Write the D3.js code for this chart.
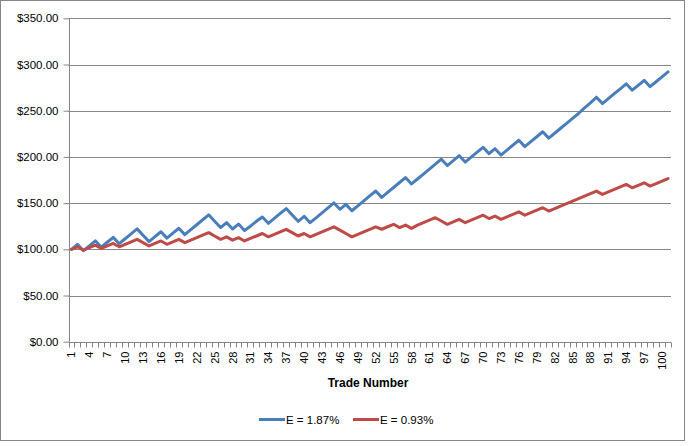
<!DOCTYPE html>
<html>
<head>
<meta charset="utf-8">
<script src="https://cdn.jsdelivr.net/npm/d3@7"></script>
<style>
  html, body { margin: 0; padding: 0; background: #ffffff; }
  svg { display: block; font-family: "Liberation Sans", Arial, sans-serif; }
</style>
</head>
<body>
<svg id="chart" width="689" height="446"></svg>
<script>
// ---- data ----
const trades = d3.range(1, 102); // categories 1..101
const yTicks = [0, 50, 100, 150, 200, 250, 300, 350];
const seriesNames = ["E = 1.87%", "E = 0.93%"];

const blueValues = [
  100.0, 105.4, 98.5, 103.8, 109.2, 102.3, 107.6, 113.0, 106.1, 111.4,
  116.8, 122.1, 115.2, 108.3, 113.7, 119.0, 112.1, 117.5, 122.8, 115.9,
  121.3, 126.6, 132.0, 137.3, 130.4, 123.5, 128.9, 122.0, 127.3, 120.4,
  125.0, 130.3, 135.0, 128.1, 133.4, 138.8, 144.1, 137.2, 130.3, 135.7,
  128.8, 134.1, 139.5, 144.8, 150.2, 143.3, 148.6, 141.7, 147.1, 152.4,
  157.8, 163.1, 156.2, 161.6, 166.9, 172.3, 177.6, 170.7, 176.1, 181.4,
  186.8, 192.1, 197.5, 190.6, 195.9, 201.3, 194.4, 199.7, 205.1, 210.4,
  203.5, 208.9, 202.0, 207.3, 212.7, 218.0, 211.1, 216.5, 221.8, 227.2,
  220.3, 225.6, 231.0, 236.3, 241.7, 247.0, 253.1, 258.4, 264.6, 257.7,
  263.0, 268.4, 273.7, 279.1, 272.2, 277.5, 282.9, 276.0, 281.3, 286.7,
  292.0
];
const redValues = [
  100.0, 102.7, 99.1, 101.8, 104.5, 100.9, 103.6, 106.3, 102.7, 105.4,
  108.1, 110.8, 107.2, 103.6, 106.3, 109.0, 105.4, 108.1, 110.8, 107.2,
  109.9, 112.6, 115.3, 118.0, 114.4, 110.8, 113.5, 109.9, 112.6, 109.0,
  111.7, 114.4, 117.1, 113.5, 116.2, 118.9, 121.6, 118.0, 114.4, 117.1,
  113.5, 116.2, 118.9, 121.6, 124.3, 120.7, 117.1, 113.5, 116.2, 118.9,
  121.6, 124.3, 121.7, 124.4, 127.1, 123.5, 126.2, 122.6, 126.1, 128.8,
  131.5, 134.2, 130.6, 127.0, 129.7, 132.4, 128.8, 131.5, 134.2, 136.9,
  133.3, 136.0, 132.4, 135.1, 137.8, 140.5, 136.9, 139.6, 142.3, 145.0,
  141.4, 144.1, 146.8, 149.5, 152.2, 154.9, 157.6, 160.3, 163.0, 159.4,
  162.1, 164.8, 167.5, 170.2, 166.6, 169.3, 172.0, 168.4, 171.1, 173.8,
  176.5
];
const colors = ["#4A7EBB", "#BE4B48"];

(function () {
  const svg = d3.select("#chart");
  const pLeft = 68.5, pRight = 671, pTop = 18.3, pBottom = 341.7;
  const fs = "11px";

  svg.append("rect").attr("x", 0.5).attr("y", 0.5).attr("width", 684).attr("height", 440)
    .attr("fill", "#fff").attr("stroke", "#868686").attr("stroke-width", 1);

  const x = d3.scaleBand().domain(trades).range([pLeft, pRight]).padding(0);
  const y = d3.scaleLinear().domain([0, 350]).range([pBottom, pTop]);

  svg.append("g").selectAll("line").data(yTicks.filter(d => d > 0)).join("line")
    .attr("x1", pLeft).attr("x2", pRight)
    .attr("y1", d => Math.round(y(d)) + 0.5).attr("y2", d => Math.round(y(d)) + 0.5)
    .attr("stroke", "#868686").attr("stroke-width", 1);

  const yAxis = d3.axisLeft(y).tickValues(yTicks).tickSize(6).tickPadding(5)
    .tickFormat(d => "$" + d3.format(".2f")(d));
  const gy = svg.append("g").attr("transform", `translate(${Math.round(pLeft) + 0.5},0)`).call(yAxis);
  gy.select(".domain").attr("stroke", "#868686").attr("d", `M0,${y(350)}V${y(0)}`);
  gy.selectAll(".tick line").attr("stroke", "#868686");
  gy.selectAll(".tick text").attr("fill", "#000").style("font-size", "11.5px");

  const bw = x.bandwidth();
  const gx = svg.append("g").attr("transform", `translate(0,${Math.round(pBottom) + 0.5})`);
  gx.append("line").attr("x1", pLeft).attr("x2", pRight).attr("y1", 0).attr("y2", 0)
    .attr("stroke", "#868686");
  gx.selectAll("line.tk").data(trades.concat([102])).join("line").attr("class", "tk")
    .attr("x1", d => Math.round(d <= 101 ? x(d) : pRight) + 0.5)
    .attr("x2", d => Math.round(d <= 101 ? x(d) : pRight) + 0.5)
    .attr("y1", 0).attr("y2", 5).attr("stroke", "#868686");
  gx.selectAll("text").data(trades.filter(d => (d - 1) % 3 === 0)).join("text")
    .attr("transform", d => `translate(${x(d) + bw / 2 + 4},9) rotate(-90)`)
    .attr("text-anchor", "end")
    .style("font-size", fs).attr("fill", "#000")
    .text(d => d);

  svg.append("text").attr("x", 368).attr("y", 387).attr("text-anchor", "middle")
    .style("font-size", "12px").style("font-weight", "bold").text("Trade Number");

  const line = d3.line().x((d, i) => x(trades[i]) + bw / 2).y(d => y(d));
  [blueValues, redValues].forEach((vals, k) => {
    svg.append("path").datum(vals).attr("d", line)
      .attr("fill", "none").attr("stroke", colors[k]).attr("stroke-width", 3)
      .attr("stroke-linejoin", "round").attr("stroke-linecap", "round");
  });

  const legendX = [259, 353];
  seriesNames.forEach((name, k) => {
    const g = svg.append("g").attr("transform", `translate(${legendX[k]},419.5)`);
    g.append("line").attr("x1", 0).attr("x2", 26).attr("y1", 0).attr("y2", 0)
      .attr("stroke", colors[k]).attr("stroke-width", 3);
    g.append("text").attr("x", 27).attr("y", 4.5).style("font-size", "11.5px").text(name);
  });
})();
</script>
</body>
</html>
